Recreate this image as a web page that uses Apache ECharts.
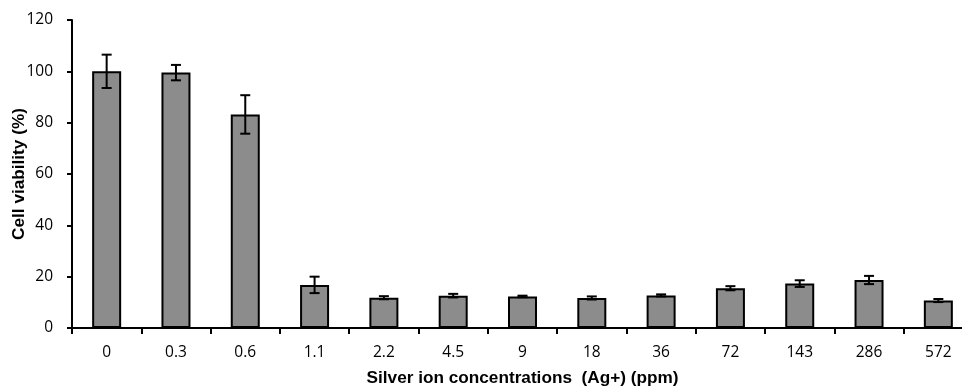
<!DOCTYPE html>
<html><head><meta charset="utf-8">
<script src="https://cdn.jsdelivr.net/npm/echarts@6/dist/echarts.min.js"></script>
<style>html,body{margin:0;padding:0;background:#fff}#c{width:962px;height:390px}</style>
</head><body><div id="c"></div>
<script>
var categories = ['0','0.3','0.6','1.1','2.2','4.5','9','18','36','72','143','286','572'];
var viability = [100, 99.5, 83.2, 16.8, 11.8, 12.6, 12.3, 11.7, 12.7, 15.5, 17.3, 18.7, 10.7];
var errors = [6.5, 3.0, 7.5, 3.2, 0.6, 0.7, 0.3, 0.6, 0.4, 0.8, 1.3, 1.6, 0.6];
var yTicks = [0, 20, 40, 60, 80, 100, 120];

var chart = echarts.init(document.getElementById('c'));
var errData = categories.map(function(c, i){ return [i, viability[i] - errors[i], viability[i] + errors[i]]; });
chart.setOption({
  animation: false,
  grid: {left: 72, top: 20, bottom: 62, right: -11, containLabel: false, outerBoundsMode: 'none'},
  xAxis: {
    type: 'category', data: categories,
    axisLine: {lineStyle: {color: '#000', width: 2}},
    axisTick: {show: true, length: 6, lineStyle: {color: '#000', width: 2}},
    axisLabel: {color: '#000', fontFamily: 'Open Sans', fontSize: 15.5, margin: 17},
    name: 'Silver ion concentrations  (Ag+) (ppm)',
    nameLocation: 'middle', nameGap: 42, nameMoveOverlap: false,
    nameTextStyle: {color: '#000', fontFamily: 'Liberation Sans', fontWeight: 'bold', fontSize: 17.2}
  },
  yAxis: {
    type: 'value', min: 0, max: 120, interval: 20,
    axisLine: {show: true, lineStyle: {color: '#000', width: 2}},
    axisTick: {show: true, length: 5, lineStyle: {color: '#000', width: 2}},
    splitLine: {show: false},
    axisLabel: {color: '#000', fontFamily: 'Open Sans', fontSize: 15.5, margin: 19,
      formatter: function(v){ return yTicks.indexOf(v) >= 0 ? String(v) : ''; }},
    name: 'Cell viability (%)', nameLocation: 'middle', nameGap: 44, nameMoveOverlap: false,
    nameTextStyle: {color: '#000', fontFamily: 'Liberation Sans', fontWeight: 'bold', fontSize: 17.2}
  },
  series: [{
    type: 'bar', data: viability, barWidth: 29,
    itemStyle: {color: '#8c8c8c', borderColor: '#000', borderWidth: 2}
  }, {
    type: 'custom', data: errData, z: 10,
    renderItem: function(params, api){
      var x = api.value(0);
      var lo = api.coord([x, api.value(1)]);
      var hi = api.coord([x, api.value(2)]);
      var w = 5;
      var st = {stroke: '#000', lineWidth: 2};
      return {type: 'group', children: [
        {type: 'line', shape: {x1: lo[0], y1: lo[1], x2: hi[0], y2: hi[1]}, style: st},
        {type: 'line', shape: {x1: lo[0]-w, y1: lo[1], x2: lo[0]+w, y2: lo[1]}, style: st},
        {type: 'line', shape: {x1: hi[0]-w, y1: hi[1], x2: hi[0]+w, y2: hi[1]}, style: st}
      ]};
    }
  }]
});
</script></body></html>
